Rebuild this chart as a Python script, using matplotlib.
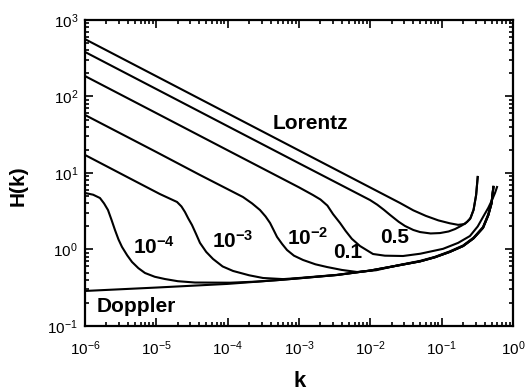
import matplotlib
matplotlib.use("Agg")
import matplotlib.pyplot as plt
from matplotlib.ticker import LogLocator, NullFormatter

plt.rcParams['font.family'] = 'Liberation Sans'
plt.rcParams['mathtext.fontset'] = 'custom'
plt.rcParams['mathtext.rm'] = 'Liberation Sans'
plt.rcParams['mathtext.bf'] = 'Liberation Sans:bold'

k_lor = [1e-6, 1e-5, 1e-4, 1e-3, 1e-2, 0.026, 0.04, 0.06, 0.09, 0.13, 0.17, 0.21, 0.25, 0.28, 0.304, 0.32]
H_lor = [562, 184, 60.2, 19.7, 6.45, 4.06, 3.25, 2.75, 2.4, 2.2, 2.1, 2.15, 2.5, 3.3, 5.15, 8.87]

k_05 = [1e-6, 1e-5, 1e-4, 1e-3, 9.9e-3, 0.0125, 0.0155, 0.0189, 0.025, 0.0306, 0.04, 0.0498, 0.07,
        0.0949, 0.125, 0.154, 0.19, 0.227, 0.255, 0.28, 0.304, 0.32]
H_05 = [382, 125, 40.9, 13.4, 4.43, 3.85, 3.3, 2.83, 2.3, 2.03, 1.8, 1.69, 1.62,
        1.64, 1.72, 1.85, 2.05, 2.29, 2.6, 3.3, 5.15, 8.87]

k_01 = [1e-6, 1e-5, 1e-4, 1e-3, 1.57e-3, 2.0e-3, 2.5e-3, 3.0e-3, 3.76e-3, 4.5e-3, 5.5e-3, 7.16e-3,
        0.0109, 0.016, 0.0287, 0.05, 0.1045, 0.17, 0.249, 0.32, 0.38, 0.45, 0.508, 0.56, 0.597]
H_01 = [185, 60.6, 19.8, 6.49, 5.15, 4.5, 3.75, 2.9, 2.22, 1.75, 1.38, 1.11,
        0.873, 0.83, 0.822, 0.88, 1.02, 1.22, 1.50, 2.0, 2.66, 3.5, 4.43, 5.5, 6.56]

k_e2 = [1e-6, 1e-5, 4.09e-5, 1.64e-4, 2.2e-4, 2.84e-4, 3.4e-4, 3.93e-4, 4.4e-4, 4.92e-4, 5.8e-4,
        6.79e-4, 8.5e-4, 1.14e-3, 1.7e-3, 2.47e-3, 4e-3, 6.5e-3, 0.012, 0.025, 0.05, 0.08, 0.13,
        0.2, 0.28, 0.38, 0.45, 0.5, 0.535]
H_e2 = [57.3, 18.8, 9.42, 4.85, 4.0, 3.28, 2.7, 2.22, 1.8, 1.46, 1.18,
        0.984, 0.83, 0.729, 0.64, 0.59, 0.54, 0.508, 0.535, 0.625, 0.71, 0.80, 0.945,
        1.13, 1.43, 1.97, 2.9, 4.2, 6.6]

k_e3 = [1e-6, 4.28e-6, 1.12e-5, 1.95e-5, 2.25e-5, 2.52e-5, 2.8e-5, 3.16e-5, 3.6e-5, 4.09e-5, 5e-5,
        6.23e-5, 8.5e-5, 1.19e-4, 2e-4, 3.13e-4, 6e-4, 1.03e-3, 3.41e-3, 0.01, 0.025, 0.05, 0.08,
        0.13, 0.2, 0.28, 0.38, 0.45, 0.5, 0.53]
H_e3 = [17.2, 8.47, 5.31, 4.18, 3.65, 3.09, 2.55, 2.09, 1.6, 1.22, 0.93,
        0.752, 0.6, 0.524, 0.46, 0.424, 0.41, 0.425, 0.466, 0.532, 0.622, 0.70, 0.79,
        0.93, 1.11, 1.4, 1.92, 2.8, 4.0, 6.56]

k_e4 = [1e-6, 1.3e-6, 1.62e-6, 1.85e-6, 2.10e-6, 2.35e-6, 2.63e-6, 2.95e-6, 3.30e-6, 3.9e-6, 4.56e-6,
        5.6e-6, 6.93e-6, 9.5e-6, 1.32e-5, 2e-5, 3.48e-5, 1.08e-4, 2.5e-4, 5.42e-4, 1e-3, 3.41e-3,
        0.01, 0.025, 0.05, 0.08, 0.13, 0.2, 0.28, 0.38, 0.45, 0.5, 0.53]
H_e4 = [5.48, 5.2, 4.71, 4.0, 3.28, 2.45, 1.80, 1.35, 1.08, 0.84, 0.687,
        0.57, 0.493, 0.44, 0.411, 0.385, 0.37, 0.368, 0.38, 0.40, 0.42, 0.464,
        0.53, 0.62, 0.70, 0.79, 0.93, 1.11, 1.4, 1.92, 2.8, 4.0, 6.56]

k_dop = [1e-6, 1e-5, 1e-4, 5.42e-4, 1e-3, 3.41e-3, 0.01, 0.025, 0.05, 0.08, 0.13, 0.2, 0.28, 0.38,
         0.45, 0.5, 0.53]
H_dop = [0.287, 0.318, 0.355, 0.40, 0.42, 0.464, 0.53, 0.62, 0.70, 0.79, 0.93, 1.11, 1.4, 1.92,
         2.8, 4.0, 6.56]

curves = [(k_lor, H_lor), (k_05, H_05), (k_01, H_01), (k_e2, H_e2),
          (k_e3, H_e3), (k_e4, H_e4), (k_dop, H_dop)]

fig = plt.figure(figsize=(5.26, 3.92), dpi=100)
ax = fig.add_axes([0.1616, 0.1684, 0.8137, 0.7806])

for kk, hh in curves:
    ax.plot(kk, hh, color='black', lw=1.5, solid_joinstyle='round')

ax.set_xscale('log')
ax.set_yscale('log')
ax.set_xlim(1e-6, 1)
ax.set_ylim(1e-1, 1e3)

ax.xaxis.set_major_locator(LogLocator(base=10, numticks=10))
ax.yaxis.set_major_locator(LogLocator(base=10, numticks=10))
ax.xaxis.set_minor_locator(LogLocator(base=10, subs=range(2, 10), numticks=20))
ax.yaxis.set_minor_locator(LogLocator(base=10, subs=range(2, 10), numticks=20))
ax.xaxis.set_minor_formatter(NullFormatter())
ax.yaxis.set_minor_formatter(NullFormatter())

ax.tick_params(which='both', direction='in', top=True, right=True, width=1.2, labelsize=11)
ax.tick_params(which='major', length=6)
ax.tick_params(which='minor', length=3)
ax.tick_params(axis='x', which='major', pad=10)
ax.tick_params(axis='y', which='major', pad=5)
for s in ax.spines.values():
    s.set_linewidth(1.6)

ax.set_xlabel('k', fontsize=16, fontweight='bold')
ax.set_ylabel('H(k)', fontsize=15, fontweight='bold')
ax.xaxis.set_label_coords(0.502, -0.147)
ax.yaxis.set_label_coords(-0.134, 0.457)

lab = dict(fontsize=15, fontweight='bold', ha='left', va='baseline')
ax.text(4.3e-4, 37.6, 'Lorentz', **lab)
ax.text(1.47e-6, 0.152, 'Doppler', **lab)
ax.text(4.7e-6, 0.873, r'$\mathbf{10^{-4}}$', **lab)
ax.text(6.0e-5, 1.05, r'$\mathbf{10^{-3}}$', **lab)
ax.text(6.8e-4, 1.15, r'$\mathbf{10^{-2}}$', **lab)
ax.text(3.0e-3, 0.775, '0.1', **lab)
ax.text(1.367e-2, 1.22, '0.5', **lab)

fig.savefig('out.png', dpi=100)
